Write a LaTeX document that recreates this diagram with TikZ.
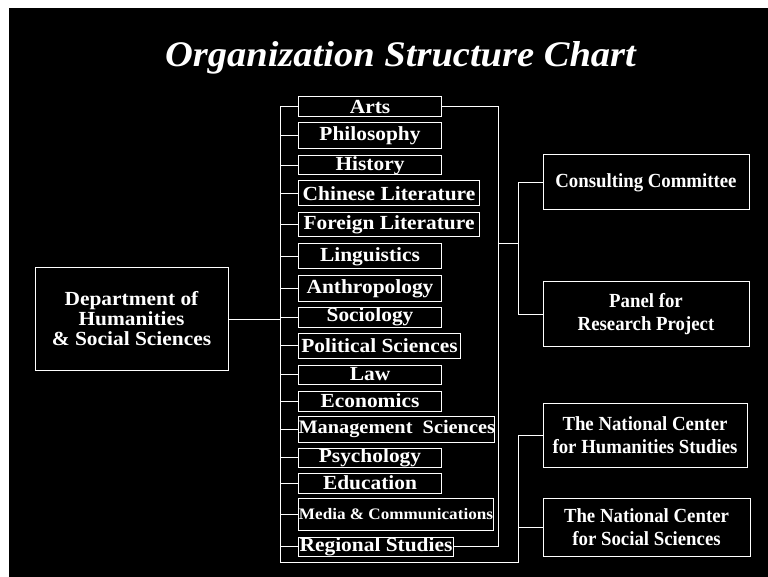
\documentclass[tikz,border=0pt]{standalone}
\usepackage{fontspec}
\setmainfont{Liberation Serif}[FakeStretch=1.07]
\newfontfamily\sidefont{Liberation Serif}[FakeStretch=0.94]
\begin{document}
\begin{tikzpicture}[x=1pt,y=-1pt,
  line/.style={draw=white,line width=1pt},
  disc/.style={draw=white,line width=1pt,text=white,anchor=west,inner sep=0pt,
     font=\bfseries\fontsize{20}{20}\selectfont},
  sidebox/.style={draw=white,line width=1pt,text=white,inner sep=0pt,align=center,
     font=\sidefont\bfseries\fontsize{20}{23}\selectfont}]
\useasboundingbox (0,0) rectangle (768,577);
\fill[white] (0,0) rectangle (768,577);
\fill[black] (9,8) rectangle (768,577);

\node[text=white,anchor=base,font=\bfseries\itshape\fontsize{36}{36}\selectfont] (title) at (400.5,67) {Organization Structure Chart};

\node[draw=white,line width=1pt,text=white,inner sep=0pt,align=center,
  minimum width=193pt,minimum height=102pt,
  font=\bfseries\fontsize{20}{20}\selectfont] (dept) at (131.5,319)
  {Department of\\Humanities\\\& Social Sciences};

\node[disc,minimum width=143pt,minimum height=20pt] (arts) at (298,107) {Arts};
\node[disc,minimum width=143pt,minimum height=26pt] (phil) at (298,136) {Philosophy};
\node[disc,minimum width=143pt,minimum height=19pt] (hist) at (298,165.5) {History};
\node[disc,minimum width=181pt,minimum height=25pt] (chin) at (298,193.5) {Chinese Literature};
\node[disc,minimum width=181pt,minimum height=24pt] (forn) at (298,225) {Foreign Literature};
\node[disc,minimum width=143pt,minimum height=25pt] (ling) at (298,256.5) {Linguistics};
\node[disc,minimum width=143pt,minimum height=25pt] (anth) at (298,288.5) {Anthropology};
\node[disc,minimum width=143pt,minimum height=20pt] (soci) at (298,317) {Sociology};
\node[disc,minimum width=162pt,minimum height=25pt] (poli) at (298,345.5) {Political Sciences};
\node[disc,minimum width=143pt,minimum height=19pt] (law) at (298,374.5) {Law};
\node[disc,minimum width=143pt,minimum height=20pt] (econ) at (298,401) {Economics};
\node[disc,minimum width=195pt,minimum height=26pt,font=\bfseries\fontsize{19}{19}\selectfont] (mgmt) at (298,429) {Management\ \ Sciences};
\node[disc,minimum width=143pt,minimum height=19pt] (psyc) at (298,457.5) {Psychology};
\node[disc,minimum width=143pt,minimum height=20pt] (educ) at (298,483) {Education};
\node[disc,minimum width=195pt,minimum height=32pt,font=\bfseries\fontsize{16}{16}\selectfont] (media) at (298,514) {Media \& Communications};
\node[disc,minimum width=155pt,minimum height=19pt] (regi) at (298,546.5) {Regional Studies};

\node[sidebox,minimum width=206pt,minimum height=55pt] (cons) at (646,182.5) {Consulting Committee};
\node[sidebox,minimum width=206pt,minimum height=64pt] (panel) at (646,314) {Panel for\\Research Project};
\node[sidebox,minimum width=204pt,minimum height=64pt] (nch) at (645,435) {The National Center\\for Humanities Studies};
\node[sidebox,minimum width=207pt,minimum height=58pt] (ncs) at (646.5,527) {The National Center\\for Social Sciences};

\coordinate (busL) at (280,0);
\coordinate (busR) at (498,0);
\coordinate (busC) at (518,0);
\coordinate (mid) at (0,244);
\coordinate (bot) at (0,562);

\draw[line] (dept.east) -- (busL |- dept.east);
\draw[line] (busL |- arts.west) -- (busL |- bot) -- (busC |- bot) -- (busC |- nch.west);
\foreach \n in {arts,phil,hist,chin,forn,ling,anth,soci,poli,law,econ,mgmt,psyc,educ,media,regi}
  \draw[line] (busL |- \n.west) -- (\n.west);
\draw[line] (arts.east) -- (busR |- arts.east) -- (busR |- regi.east) -- (regi.east);
\draw[line] (busR |- mid) -- (busC |- mid);
\draw[line] (cons.west) -- (busC |- cons.west) -- (busC |- panel.west) -- (panel.west);
\draw[line] (nch.west) -- (busC |- nch.west);
\draw[line] (ncs.west) -- (busC |- ncs.west);
\end{tikzpicture}
\end{document}
